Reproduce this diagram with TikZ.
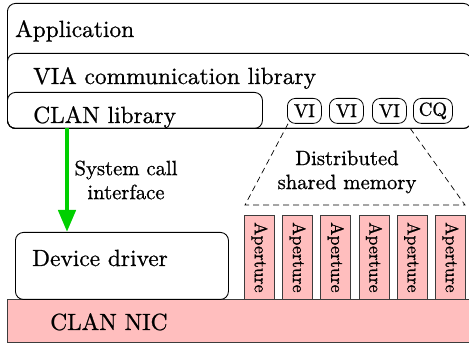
\documentclass[tikz,border=0pt]{standalone}
\usepackage{fontspec}
\setmainfont{lmroman10-regular}[Extension=.otf, FakeBold=0.8]
\usetikzlibrary{arrows.meta}
\definecolor{nicpink}{RGB}{255,190,190}
\definecolor{callgreen}{RGB}{0,208,0}
\definecolor{edgegray}{RGB}{60,60,60}
\tikzset{
  layer/.style={draw=black, line width=0.9pt, rounded corners=8pt, anchor=north west, inner sep=0pt},
  bigtext/.style={font=\rmfamily\fontsize{23.4}{28}\selectfont, anchor=base west, inner sep=0pt},
  smalltext/.style={font=\rmfamily\fontsize{20.7}{24}\selectfont, align=center, inner sep=0pt},
  queue/.style={draw=black, line width=0.8pt, rounded corners=8pt, minimum width=34pt, minimum height=25pt, inner sep=0pt, font=\rmfamily\fontsize{18.8}{22}\selectfont, anchor=north west},
  aperture/.style={draw=edgegray, fill=nicpink, line width=0.8pt, minimum width=30pt, minimum height=84pt, anchor=north west, inner sep=0pt},
  apertext/.style={rotate=-90, font=\rmfamily\fontsize{17.8}{20}\selectfont, inner sep=0pt},
  shareline/.style={dashed, dash pattern=on 6pt off 4pt, line width=0.7pt},
}
\begin{document}
\begin{tikzpicture}[x=1pt, y=-1pt]
\useasboundingbox (0,0) rectangle (469,344);

% software layers
\node[layer, minimum width=464pt, minimum height=125pt] (app) at (7,3) {};
\node[layer, minimum width=464pt, minimum height=75pt] (via) at (7,53) {};
\node[layer, minimum width=255pt, minimum height=36pt] (clanlib) at (7,92) {};
\node[bigtext] (apptxt) at (15,37) {Application};
\node[bigtext] (viatxt) at (33,84) {VIA communication library};
\node[bigtext] (clantxt) at (33,123) {CLAN library};

% queues
\node[queue] (vi1) at (287,98) {VI};
\node[queue] (vi2) at (329,98) {VI};
\node[queue] (vi3) at (372,98) {VI};
\node[queue, minimum width=39pt] (cq) at (413,98) {CQ};

% NIC and driver
\node[draw=edgegray, fill=nicpink, line width=0.9pt, minimum width=470pt, minimum height=43pt, anchor=north west, inner sep=0pt] (nic) at (7,299) {};
\node[bigtext] (nictxt) at (50,330) {CLAN NIC};
\node[layer, minimum width=213pt, minimum height=67pt] (driver) at (15,232) {};
\node[bigtext] (drvtxt) at (32,266) {Device driver};

% apertures
\foreach \i in {0,...,5} {
  \node[aperture] (ap\i) at (244+38.2*\i,215) {};
  \node[apertext] (apt\i) at (ap\i.center) {Aperture};
}

% distributed shared memory outline
\coordinate (dl) at (245,205);
\coordinate (dr) at (465,205);
\draw[shareline] ([xshift=1pt]vi1.south west) -- (dl) -- (dr) -- ([xshift=3pt,yshift=-4pt]vi3.south east);
\node[smalltext] (dsm) at (347,172) {Distributed\\shared memory};

% system call
\draw[callgreen, line width=4.5pt, -{Triangle[width=17pt,length=22pt]}] (67,128) -- (driver.north -| 67,0);
\node[smalltext] (sys) at (126,180) {System call\\interface};
\end{tikzpicture}
\end{document}
